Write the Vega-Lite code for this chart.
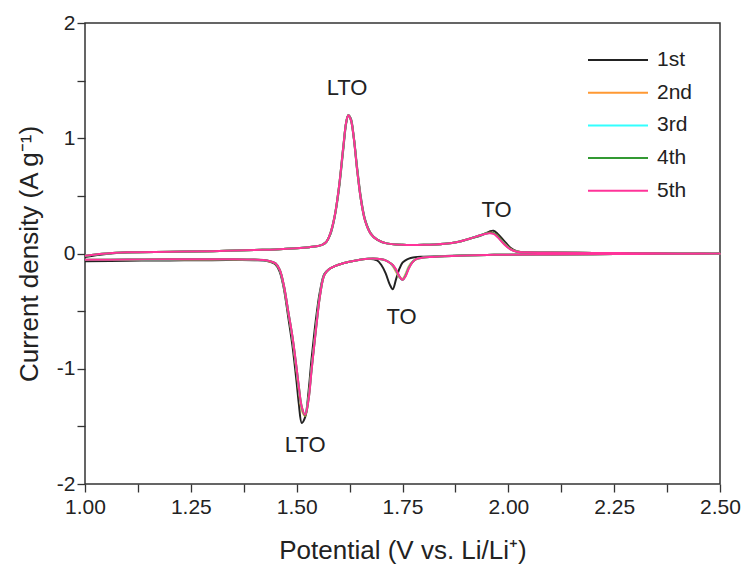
{
"$schema":"https://vega.github.io/schema/vega-lite/v6.json",
"width":635,"height":461,"autosize":"none",
"padding":{"left":85,"top":23,"right":28,"bottom":85},
"background":"white",
"config":{"view":{"stroke":"#333333","strokeWidth":1.5},"font":"Liberation Sans"},
"layer":[
{"data":{"values":[
{"c":"1st","i":0,"x":1,"y":-0.03},{"c":"1st","i":1,"x":1.05,"y":-0.005},{"c":"1st","i":2,"x":1.1,"y":0.008},{"c":"1st","i":3,"x":1.2,"y":0.014},{"c":"1st","i":4,"x":1.3,"y":0.02},{"c":"1st","i":5,"x":1.4,"y":0.03},{"c":"1st","i":6,"x":1.45,"y":0.035},{"c":"1st","i":7,"x":1.5,"y":0.045},{"c":"1st","i":8,"x":1.53,"y":0.055},{"c":"1st","i":9,"x":1.55,"y":0.065},{"c":"1st","i":10,"x":1.56,"y":0.075},{"c":"1st","i":11,"x":1.57,"y":0.1},{"c":"1st","i":12,"x":1.58,"y":0.17},{"c":"1st","i":13,"x":1.59,"y":0.32},{"c":"1st","i":14,"x":1.6,"y":0.56},{"c":"1st","i":15,"x":1.61,"y":0.9},{"c":"1st","i":16,"x":1.617,"y":1.13},{"c":"1st","i":17,"x":1.622,"y":1.2},{"c":"1st","i":18,"x":1.628,"y":1.17},{"c":"1st","i":19,"x":1.635,"y":1.01},{"c":"1st","i":20,"x":1.643,"y":0.74},{"c":"1st","i":21,"x":1.652,"y":0.48},{"c":"1st","i":22,"x":1.662,"y":0.29},{"c":"1st","i":23,"x":1.675,"y":0.175},{"c":"1st","i":24,"x":1.69,"y":0.12},{"c":"1st","i":25,"x":1.71,"y":0.09},{"c":"1st","i":26,"x":1.75,"y":0.075},{"c":"1st","i":27,"x":1.8,"y":0.075},{"c":"1st","i":28,"x":1.85,"y":0.085},{"c":"1st","i":29,"x":1.88,"y":0.1},{"c":"1st","i":30,"x":1.91,"y":0.13},{"c":"1st","i":31,"x":1.935,"y":0.155},{"c":"1st","i":32,"x":1.955,"y":0.19},{"c":"1st","i":33,"x":1.965,"y":0.198},{"c":"1st","i":34,"x":1.975,"y":0.17},{"c":"1st","i":35,"x":1.99,"y":0.11},{"c":"1st","i":36,"x":2.005,"y":0.05},{"c":"1st","i":37,"x":2.02,"y":0.02},{"c":"1st","i":38,"x":2.05,"y":0.01},{"c":"1st","i":39,"x":2.1,"y":0.008},{"c":"1st","i":40,"x":2.2,"y":0.005},{"c":"1st","i":41,"x":2.3,"y":0.003},{"c":"1st","i":42,"x":2.4,"y":0.001},{"c":"1st","i":43,"x":2.5,"y":0},
{"c":"1st","i":44,"x":2.4,"y":-0.002},{"c":"1st","i":45,"x":2.3,"y":-0.004},{"c":"1st","i":46,"x":2.2,"y":-0.006},{"c":"1st","i":47,"x":2.1,"y":-0.008},{"c":"1st","i":48,"x":2,"y":-0.01},{"c":"1st","i":49,"x":1.95,"y":-0.012},{"c":"1st","i":50,"x":1.9,"y":-0.016},{"c":"1st","i":51,"x":1.85,"y":-0.021},{"c":"1st","i":52,"x":1.82,"y":-0.025},{"c":"1st","i":53,"x":1.8,"y":-0.028},{"c":"1st","i":54,"x":1.785,"y":-0.03},{"c":"1st","i":55,"x":1.775,"y":-0.035},{"c":"1st","i":56,"x":1.765,"y":-0.045},{"c":"1st","i":57,"x":1.757,"y":-0.06},{"c":"1st","i":58,"x":1.75,"y":-0.08},{"c":"1st","i":59,"x":1.743,"y":-0.13},{"c":"1st","i":60,"x":1.735,"y":-0.22},{"c":"1st","i":61,"x":1.727,"y":-0.31},{"c":"1st","i":62,"x":1.72,"y":-0.27},{"c":"1st","i":63,"x":1.71,"y":-0.17},{"c":"1st","i":64,"x":1.7,"y":-0.1},{"c":"1st","i":65,"x":1.69,"y":-0.06},{"c":"1st","i":66,"x":1.67,"y":-0.045},{"c":"1st","i":67,"x":1.64,"y":-0.06},{"c":"1st","i":68,"x":1.61,"y":-0.085},{"c":"1st","i":69,"x":1.59,"y":-0.11},{"c":"1st","i":70,"x":1.575,"y":-0.14},{"c":"1st","i":71,"x":1.565,"y":-0.18},{"c":"1st","i":72,"x":1.555,"y":-0.33},{"c":"1st","i":73,"x":1.548,"y":-0.5},{"c":"1st","i":74,"x":1.542,"y":-0.68},{"c":"1st","i":75,"x":1.535,"y":-0.92},{"c":"1st","i":76,"x":1.528,"y":-1.2},{"c":"1st","i":77,"x":1.52,"y":-1.42},{"c":"1st","i":78,"x":1.512,"y":-1.47},{"c":"1st","i":79,"x":1.505,"y":-1.3},{"c":"1st","i":80,"x":1.5,"y":-1.12},{"c":"1st","i":81,"x":1.49,"y":-0.8},{"c":"1st","i":82,"x":1.48,"y":-0.55},{"c":"1st","i":83,"x":1.47,"y":-0.31},{"c":"1st","i":84,"x":1.46,"y":-0.16},{"c":"1st","i":85,"x":1.45,"y":-0.095},{"c":"1st","i":86,"x":1.43,"y":-0.065},{"c":"1st","i":87,"x":1.4,"y":-0.058},{"c":"1st","i":88,"x":1.35,"y":-0.057},{"c":"1st","i":89,"x":1.3,"y":-0.058},{"c":"1st","i":90,"x":1.2,"y":-0.06},{"c":"1st","i":91,"x":1.1,"y":-0.063},{"c":"1st","i":92,"x":1,"y":-0.068},

{"c":"2nd","i":0,"x":1,"y":-0.02},{"c":"2nd","i":1,"x":1.05,"y":0},{"c":"2nd","i":2,"x":1.1,"y":0.01},{"c":"2nd","i":3,"x":1.2,"y":0.015},{"c":"2nd","i":4,"x":1.3,"y":0.02},{"c":"2nd","i":5,"x":1.4,"y":0.03},{"c":"2nd","i":6,"x":1.45,"y":0.035},{"c":"2nd","i":7,"x":1.5,"y":0.045},{"c":"2nd","i":8,"x":1.53,"y":0.055},{"c":"2nd","i":9,"x":1.55,"y":0.065},{"c":"2nd","i":10,"x":1.56,"y":0.075},{"c":"2nd","i":11,"x":1.57,"y":0.1},{"c":"2nd","i":12,"x":1.58,"y":0.18},{"c":"2nd","i":13,"x":1.59,"y":0.33},{"c":"2nd","i":14,"x":1.6,"y":0.58},{"c":"2nd","i":15,"x":1.61,"y":0.92},{"c":"2nd","i":16,"x":1.617,"y":1.14},{"c":"2nd","i":17,"x":1.622,"y":1.2},{"c":"2nd","i":18,"x":1.628,"y":1.16},{"c":"2nd","i":19,"x":1.635,"y":1},{"c":"2nd","i":20,"x":1.643,"y":0.72},{"c":"2nd","i":21,"x":1.652,"y":0.46},{"c":"2nd","i":22,"x":1.662,"y":0.28},{"c":"2nd","i":23,"x":1.675,"y":0.17},{"c":"2nd","i":24,"x":1.69,"y":0.12},{"c":"2nd","i":25,"x":1.71,"y":0.09},{"c":"2nd","i":26,"x":1.75,"y":0.075},{"c":"2nd","i":27,"x":1.8,"y":0.075},{"c":"2nd","i":28,"x":1.85,"y":0.085},{"c":"2nd","i":29,"x":1.88,"y":0.1},{"c":"2nd","i":30,"x":1.91,"y":0.13},{"c":"2nd","i":31,"x":1.935,"y":0.16},{"c":"2nd","i":32,"x":1.955,"y":0.18},{"c":"2nd","i":33,"x":1.965,"y":0.178},{"c":"2nd","i":34,"x":1.975,"y":0.15},{"c":"2nd","i":35,"x":1.99,"y":0.09},{"c":"2nd","i":36,"x":2.005,"y":0.04},{"c":"2nd","i":37,"x":2.02,"y":0.017},{"c":"2nd","i":38,"x":2.05,"y":0.01},{"c":"2nd","i":39,"x":2.1,"y":0.008},{"c":"2nd","i":40,"x":2.2,"y":0.005},{"c":"2nd","i":41,"x":2.3,"y":0.003},{"c":"2nd","i":42,"x":2.4,"y":0.001},{"c":"2nd","i":43,"x":2.5,"y":0},
{"c":"2nd","i":44,"x":2.4,"y":-0.002},{"c":"2nd","i":45,"x":2.3,"y":-0.004},{"c":"2nd","i":46,"x":2.2,"y":-0.006},{"c":"2nd","i":47,"x":2.1,"y":-0.008},{"c":"2nd","i":48,"x":2,"y":-0.01},{"c":"2nd","i":49,"x":1.95,"y":-0.013},{"c":"2nd","i":50,"x":1.9,"y":-0.018},{"c":"2nd","i":51,"x":1.85,"y":-0.024},{"c":"2nd","i":52,"x":1.82,"y":-0.03},{"c":"2nd","i":53,"x":1.8,"y":-0.035},{"c":"2nd","i":54,"x":1.785,"y":-0.045},{"c":"2nd","i":55,"x":1.775,"y":-0.065},{"c":"2nd","i":56,"x":1.765,"y":-0.11},{"c":"2nd","i":57,"x":1.757,"y":-0.18},{"c":"2nd","i":58,"x":1.75,"y":-0.22},{"c":"2nd","i":59,"x":1.743,"y":-0.21},{"c":"2nd","i":60,"x":1.735,"y":-0.16},{"c":"2nd","i":61,"x":1.727,"y":-0.11},{"c":"2nd","i":62,"x":1.72,"y":-0.08},{"c":"2nd","i":63,"x":1.71,"y":-0.06},{"c":"2nd","i":64,"x":1.7,"y":-0.05},{"c":"2nd","i":65,"x":1.69,"y":-0.045},{"c":"2nd","i":66,"x":1.67,"y":-0.045},{"c":"2nd","i":67,"x":1.64,"y":-0.06},{"c":"2nd","i":68,"x":1.61,"y":-0.085},{"c":"2nd","i":69,"x":1.59,"y":-0.11},{"c":"2nd","i":70,"x":1.575,"y":-0.14},{"c":"2nd","i":71,"x":1.565,"y":-0.19},{"c":"2nd","i":72,"x":1.555,"y":-0.36},{"c":"2nd","i":73,"x":1.548,"y":-0.56},{"c":"2nd","i":74,"x":1.542,"y":-0.76},{"c":"2nd","i":75,"x":1.535,"y":-1},{"c":"2nd","i":76,"x":1.528,"y":-1.25},{"c":"2nd","i":77,"x":1.52,"y":-1.41},{"c":"2nd","i":78,"x":1.512,"y":-1.36},{"c":"2nd","i":79,"x":1.505,"y":-1.18},{"c":"2nd","i":80,"x":1.5,"y":-1.03},{"c":"2nd","i":81,"x":1.49,"y":-0.74},{"c":"2nd","i":82,"x":1.48,"y":-0.51},{"c":"2nd","i":83,"x":1.47,"y":-0.29},{"c":"2nd","i":84,"x":1.46,"y":-0.145},{"c":"2nd","i":85,"x":1.45,"y":-0.088},{"c":"2nd","i":86,"x":1.43,"y":-0.062},{"c":"2nd","i":87,"x":1.4,"y":-0.054},{"c":"2nd","i":88,"x":1.35,"y":-0.051},{"c":"2nd","i":89,"x":1.3,"y":-0.051},{"c":"2nd","i":90,"x":1.2,"y":-0.052},{"c":"2nd","i":91,"x":1.1,"y":-0.054},{"c":"2nd","i":92,"x":1,"y":-0.057},

{"c":"3rd","i":0,"x":1,"y":-0.02},{"c":"3rd","i":1,"x":1.05,"y":0},{"c":"3rd","i":2,"x":1.1,"y":0.01},{"c":"3rd","i":3,"x":1.2,"y":0.015},{"c":"3rd","i":4,"x":1.3,"y":0.02},{"c":"3rd","i":5,"x":1.4,"y":0.03},{"c":"3rd","i":6,"x":1.45,"y":0.035},{"c":"3rd","i":7,"x":1.5,"y":0.045},{"c":"3rd","i":8,"x":1.53,"y":0.055},{"c":"3rd","i":9,"x":1.55,"y":0.065},{"c":"3rd","i":10,"x":1.56,"y":0.075},{"c":"3rd","i":11,"x":1.57,"y":0.1},{"c":"3rd","i":12,"x":1.58,"y":0.18},{"c":"3rd","i":13,"x":1.59,"y":0.33},{"c":"3rd","i":14,"x":1.6,"y":0.58},{"c":"3rd","i":15,"x":1.61,"y":0.92},{"c":"3rd","i":16,"x":1.617,"y":1.14},{"c":"3rd","i":17,"x":1.622,"y":1.2},{"c":"3rd","i":18,"x":1.628,"y":1.16},{"c":"3rd","i":19,"x":1.635,"y":1},{"c":"3rd","i":20,"x":1.643,"y":0.72},{"c":"3rd","i":21,"x":1.652,"y":0.46},{"c":"3rd","i":22,"x":1.662,"y":0.28},{"c":"3rd","i":23,"x":1.675,"y":0.17},{"c":"3rd","i":24,"x":1.69,"y":0.12},{"c":"3rd","i":25,"x":1.71,"y":0.09},{"c":"3rd","i":26,"x":1.75,"y":0.075},{"c":"3rd","i":27,"x":1.8,"y":0.075},{"c":"3rd","i":28,"x":1.85,"y":0.085},{"c":"3rd","i":29,"x":1.88,"y":0.1},{"c":"3rd","i":30,"x":1.91,"y":0.13},{"c":"3rd","i":31,"x":1.935,"y":0.16},{"c":"3rd","i":32,"x":1.955,"y":0.178},{"c":"3rd","i":33,"x":1.965,"y":0.174},{"c":"3rd","i":34,"x":1.975,"y":0.145},{"c":"3rd","i":35,"x":1.99,"y":0.085},{"c":"3rd","i":36,"x":2.005,"y":0.037},{"c":"3rd","i":37,"x":2.02,"y":0.016},{"c":"3rd","i":38,"x":2.05,"y":0.01},{"c":"3rd","i":39,"x":2.1,"y":0.008},{"c":"3rd","i":40,"x":2.2,"y":0.005},{"c":"3rd","i":41,"x":2.3,"y":0.003},{"c":"3rd","i":42,"x":2.4,"y":0.001},{"c":"3rd","i":43,"x":2.5,"y":0},
{"c":"3rd","i":44,"x":2.4,"y":-0.002},{"c":"3rd","i":45,"x":2.3,"y":-0.004},{"c":"3rd","i":46,"x":2.2,"y":-0.006},{"c":"3rd","i":47,"x":2.1,"y":-0.008},{"c":"3rd","i":48,"x":2,"y":-0.01},{"c":"3rd","i":49,"x":1.95,"y":-0.013},{"c":"3rd","i":50,"x":1.9,"y":-0.018},{"c":"3rd","i":51,"x":1.85,"y":-0.024},{"c":"3rd","i":52,"x":1.82,"y":-0.03},{"c":"3rd","i":53,"x":1.8,"y":-0.035},{"c":"3rd","i":54,"x":1.785,"y":-0.045},{"c":"3rd","i":55,"x":1.775,"y":-0.068},{"c":"3rd","i":56,"x":1.765,"y":-0.12},{"c":"3rd","i":57,"x":1.757,"y":-0.19},{"c":"3rd","i":58,"x":1.75,"y":-0.23},{"c":"3rd","i":59,"x":1.743,"y":-0.205},{"c":"3rd","i":60,"x":1.735,"y":-0.15},{"c":"3rd","i":61,"x":1.727,"y":-0.105},{"c":"3rd","i":62,"x":1.72,"y":-0.08},{"c":"3rd","i":63,"x":1.71,"y":-0.06},{"c":"3rd","i":64,"x":1.7,"y":-0.05},{"c":"3rd","i":65,"x":1.69,"y":-0.045},{"c":"3rd","i":66,"x":1.67,"y":-0.045},{"c":"3rd","i":67,"x":1.64,"y":-0.06},{"c":"3rd","i":68,"x":1.61,"y":-0.085},{"c":"3rd","i":69,"x":1.59,"y":-0.11},{"c":"3rd","i":70,"x":1.575,"y":-0.14},{"c":"3rd","i":71,"x":1.565,"y":-0.19},{"c":"3rd","i":72,"x":1.555,"y":-0.365},{"c":"3rd","i":73,"x":1.548,"y":-0.57},{"c":"3rd","i":74,"x":1.542,"y":-0.77},{"c":"3rd","i":75,"x":1.535,"y":-1.01},{"c":"3rd","i":76,"x":1.528,"y":-1.26},{"c":"3rd","i":77,"x":1.52,"y":-1.4},{"c":"3rd","i":78,"x":1.512,"y":-1.34},{"c":"3rd","i":79,"x":1.505,"y":-1.16},{"c":"3rd","i":80,"x":1.5,"y":-1.01},{"c":"3rd","i":81,"x":1.49,"y":-0.73},{"c":"3rd","i":82,"x":1.48,"y":-0.5},{"c":"3rd","i":83,"x":1.47,"y":-0.285},{"c":"3rd","i":84,"x":1.46,"y":-0.142},{"c":"3rd","i":85,"x":1.45,"y":-0.086},{"c":"3rd","i":86,"x":1.43,"y":-0.061},{"c":"3rd","i":87,"x":1.4,"y":-0.053},{"c":"3rd","i":88,"x":1.35,"y":-0.05},{"c":"3rd","i":89,"x":1.3,"y":-0.05},{"c":"3rd","i":90,"x":1.2,"y":-0.051},{"c":"3rd","i":91,"x":1.1,"y":-0.053},{"c":"3rd","i":92,"x":1,"y":-0.056},

{"c":"4th","i":0,"x":1,"y":-0.02},{"c":"4th","i":1,"x":1.05,"y":0},{"c":"4th","i":2,"x":1.1,"y":0.01},{"c":"4th","i":3,"x":1.2,"y":0.015},{"c":"4th","i":4,"x":1.3,"y":0.02},{"c":"4th","i":5,"x":1.4,"y":0.03},{"c":"4th","i":6,"x":1.45,"y":0.035},{"c":"4th","i":7,"x":1.5,"y":0.045},{"c":"4th","i":8,"x":1.53,"y":0.055},{"c":"4th","i":9,"x":1.55,"y":0.065},{"c":"4th","i":10,"x":1.56,"y":0.075},{"c":"4th","i":11,"x":1.57,"y":0.1},{"c":"4th","i":12,"x":1.58,"y":0.18},{"c":"4th","i":13,"x":1.59,"y":0.33},{"c":"4th","i":14,"x":1.6,"y":0.58},{"c":"4th","i":15,"x":1.61,"y":0.92},{"c":"4th","i":16,"x":1.617,"y":1.14},{"c":"4th","i":17,"x":1.622,"y":1.2},{"c":"4th","i":18,"x":1.628,"y":1.16},{"c":"4th","i":19,"x":1.635,"y":1},{"c":"4th","i":20,"x":1.643,"y":0.72},{"c":"4th","i":21,"x":1.652,"y":0.46},{"c":"4th","i":22,"x":1.662,"y":0.28},{"c":"4th","i":23,"x":1.675,"y":0.17},{"c":"4th","i":24,"x":1.69,"y":0.12},{"c":"4th","i":25,"x":1.71,"y":0.09},{"c":"4th","i":26,"x":1.75,"y":0.075},{"c":"4th","i":27,"x":1.8,"y":0.075},{"c":"4th","i":28,"x":1.85,"y":0.085},{"c":"4th","i":29,"x":1.88,"y":0.1},{"c":"4th","i":30,"x":1.91,"y":0.13},{"c":"4th","i":31,"x":1.935,"y":0.16},{"c":"4th","i":32,"x":1.955,"y":0.18},{"c":"4th","i":33,"x":1.965,"y":0.176},{"c":"4th","i":34,"x":1.975,"y":0.147},{"c":"4th","i":35,"x":1.99,"y":0.085},{"c":"4th","i":36,"x":2.005,"y":0.037},{"c":"4th","i":37,"x":2.02,"y":0.016},{"c":"4th","i":38,"x":2.05,"y":0.01},{"c":"4th","i":39,"x":2.1,"y":0.008},{"c":"4th","i":40,"x":2.2,"y":0.005},{"c":"4th","i":41,"x":2.3,"y":0.003},{"c":"4th","i":42,"x":2.4,"y":0.001},{"c":"4th","i":43,"x":2.5,"y":0},
{"c":"4th","i":44,"x":2.4,"y":-0.002},{"c":"4th","i":45,"x":2.3,"y":-0.004},{"c":"4th","i":46,"x":2.2,"y":-0.006},{"c":"4th","i":47,"x":2.1,"y":-0.008},{"c":"4th","i":48,"x":2,"y":-0.01},{"c":"4th","i":49,"x":1.95,"y":-0.013},{"c":"4th","i":50,"x":1.9,"y":-0.018},{"c":"4th","i":51,"x":1.85,"y":-0.024},{"c":"4th","i":52,"x":1.82,"y":-0.03},{"c":"4th","i":53,"x":1.8,"y":-0.035},{"c":"4th","i":54,"x":1.785,"y":-0.045},{"c":"4th","i":55,"x":1.775,"y":-0.07},{"c":"4th","i":56,"x":1.765,"y":-0.125},{"c":"4th","i":57,"x":1.757,"y":-0.195},{"c":"4th","i":58,"x":1.75,"y":-0.23},{"c":"4th","i":59,"x":1.743,"y":-0.2},{"c":"4th","i":60,"x":1.735,"y":-0.145},{"c":"4th","i":61,"x":1.727,"y":-0.1},{"c":"4th","i":62,"x":1.72,"y":-0.08},{"c":"4th","i":63,"x":1.71,"y":-0.06},{"c":"4th","i":64,"x":1.7,"y":-0.05},{"c":"4th","i":65,"x":1.69,"y":-0.045},{"c":"4th","i":66,"x":1.67,"y":-0.045},{"c":"4th","i":67,"x":1.64,"y":-0.06},{"c":"4th","i":68,"x":1.61,"y":-0.085},{"c":"4th","i":69,"x":1.59,"y":-0.11},{"c":"4th","i":70,"x":1.575,"y":-0.14},{"c":"4th","i":71,"x":1.565,"y":-0.19},{"c":"4th","i":72,"x":1.555,"y":-0.37},{"c":"4th","i":73,"x":1.548,"y":-0.58},{"c":"4th","i":74,"x":1.542,"y":-0.78},{"c":"4th","i":75,"x":1.535,"y":-1.02},{"c":"4th","i":76,"x":1.528,"y":-1.27},{"c":"4th","i":77,"x":1.52,"y":-1.41},{"c":"4th","i":78,"x":1.512,"y":-1.33},{"c":"4th","i":79,"x":1.505,"y":-1.15},{"c":"4th","i":80,"x":1.5,"y":-1},{"c":"4th","i":81,"x":1.49,"y":-0.72},{"c":"4th","i":82,"x":1.48,"y":-0.5},{"c":"4th","i":83,"x":1.47,"y":-0.28},{"c":"4th","i":84,"x":1.46,"y":-0.14},{"c":"4th","i":85,"x":1.45,"y":-0.085},{"c":"4th","i":86,"x":1.43,"y":-0.06},{"c":"4th","i":87,"x":1.4,"y":-0.053},{"c":"4th","i":88,"x":1.35,"y":-0.05},{"c":"4th","i":89,"x":1.3,"y":-0.05},{"c":"4th","i":90,"x":1.2,"y":-0.05},{"c":"4th","i":91,"x":1.1,"y":-0.052},{"c":"4th","i":92,"x":1,"y":-0.055},

{"c":"5th","i":0,"x":1,"y":-0.02},{"c":"5th","i":1,"x":1.05,"y":0},{"c":"5th","i":2,"x":1.1,"y":0.01},{"c":"5th","i":3,"x":1.2,"y":0.015},{"c":"5th","i":4,"x":1.3,"y":0.02},{"c":"5th","i":5,"x":1.4,"y":0.03},{"c":"5th","i":6,"x":1.45,"y":0.035},{"c":"5th","i":7,"x":1.5,"y":0.045},{"c":"5th","i":8,"x":1.53,"y":0.055},{"c":"5th","i":9,"x":1.55,"y":0.065},{"c":"5th","i":10,"x":1.56,"y":0.075},{"c":"5th","i":11,"x":1.57,"y":0.1},{"c":"5th","i":12,"x":1.58,"y":0.18},{"c":"5th","i":13,"x":1.59,"y":0.33},{"c":"5th","i":14,"x":1.6,"y":0.58},{"c":"5th","i":15,"x":1.61,"y":0.92},{"c":"5th","i":16,"x":1.617,"y":1.14},{"c":"5th","i":17,"x":1.622,"y":1.2},{"c":"5th","i":18,"x":1.628,"y":1.16},{"c":"5th","i":19,"x":1.635,"y":1},{"c":"5th","i":20,"x":1.643,"y":0.72},{"c":"5th","i":21,"x":1.652,"y":0.46},{"c":"5th","i":22,"x":1.662,"y":0.28},{"c":"5th","i":23,"x":1.675,"y":0.17},{"c":"5th","i":24,"x":1.69,"y":0.12},{"c":"5th","i":25,"x":1.71,"y":0.09},{"c":"5th","i":26,"x":1.75,"y":0.075},{"c":"5th","i":27,"x":1.8,"y":0.075},{"c":"5th","i":28,"x":1.85,"y":0.085},{"c":"5th","i":29,"x":1.88,"y":0.1},{"c":"5th","i":30,"x":1.91,"y":0.13},{"c":"5th","i":31,"x":1.935,"y":0.16},{"c":"5th","i":32,"x":1.955,"y":0.175},{"c":"5th","i":33,"x":1.965,"y":0.17},{"c":"5th","i":34,"x":1.975,"y":0.14},{"c":"5th","i":35,"x":1.99,"y":0.08},{"c":"5th","i":36,"x":2.005,"y":0.035},{"c":"5th","i":37,"x":2.02,"y":0.015},{"c":"5th","i":38,"x":2.05,"y":0.01},{"c":"5th","i":39,"x":2.1,"y":0.008},{"c":"5th","i":40,"x":2.2,"y":0.005},{"c":"5th","i":41,"x":2.3,"y":0.003},{"c":"5th","i":42,"x":2.4,"y":0.001},{"c":"5th","i":43,"x":2.5,"y":0},
{"c":"5th","i":44,"x":2.4,"y":-0.002},{"c":"5th","i":45,"x":2.3,"y":-0.004},{"c":"5th","i":46,"x":2.2,"y":-0.006},{"c":"5th","i":47,"x":2.1,"y":-0.008},{"c":"5th","i":48,"x":2,"y":-0.01},{"c":"5th","i":49,"x":1.95,"y":-0.013},{"c":"5th","i":50,"x":1.9,"y":-0.018},{"c":"5th","i":51,"x":1.85,"y":-0.024},{"c":"5th","i":52,"x":1.82,"y":-0.03},{"c":"5th","i":53,"x":1.8,"y":-0.035},{"c":"5th","i":54,"x":1.785,"y":-0.045},{"c":"5th","i":55,"x":1.775,"y":-0.07},{"c":"5th","i":56,"x":1.765,"y":-0.13},{"c":"5th","i":57,"x":1.757,"y":-0.2},{"c":"5th","i":58,"x":1.75,"y":-0.23},{"c":"5th","i":59,"x":1.743,"y":-0.2},{"c":"5th","i":60,"x":1.735,"y":-0.14},{"c":"5th","i":61,"x":1.727,"y":-0.1},{"c":"5th","i":62,"x":1.72,"y":-0.08},{"c":"5th","i":63,"x":1.71,"y":-0.06},{"c":"5th","i":64,"x":1.7,"y":-0.05},{"c":"5th","i":65,"x":1.69,"y":-0.045},{"c":"5th","i":66,"x":1.67,"y":-0.045},{"c":"5th","i":67,"x":1.64,"y":-0.06},{"c":"5th","i":68,"x":1.61,"y":-0.085},{"c":"5th","i":69,"x":1.59,"y":-0.11},{"c":"5th","i":70,"x":1.575,"y":-0.14},{"c":"5th","i":71,"x":1.565,"y":-0.19},{"c":"5th","i":72,"x":1.555,"y":-0.37},{"c":"5th","i":73,"x":1.548,"y":-0.58},{"c":"5th","i":74,"x":1.542,"y":-0.78},{"c":"5th","i":75,"x":1.535,"y":-1.02},{"c":"5th","i":76,"x":1.528,"y":-1.27},{"c":"5th","i":77,"x":1.52,"y":-1.4},{"c":"5th","i":78,"x":1.512,"y":-1.33},{"c":"5th","i":79,"x":1.505,"y":-1.15},{"c":"5th","i":80,"x":1.5,"y":-1},{"c":"5th","i":81,"x":1.49,"y":-0.72},{"c":"5th","i":82,"x":1.48,"y":-0.5},{"c":"5th","i":83,"x":1.47,"y":-0.28},{"c":"5th","i":84,"x":1.46,"y":-0.14},{"c":"5th","i":85,"x":1.45,"y":-0.085},{"c":"5th","i":86,"x":1.43,"y":-0.06},{"c":"5th","i":87,"x":1.4,"y":-0.053},{"c":"5th","i":88,"x":1.35,"y":-0.05},{"c":"5th","i":89,"x":1.3,"y":-0.05},{"c":"5th","i":90,"x":1.2,"y":-0.05},{"c":"5th","i":91,"x":1.1,"y":-0.052},{"c":"5th","i":92,"x":1,"y":-0.055}
]},
"mark":{"type":"line","strokeWidth":2,"interpolate":"catmull-rom"},
"encoding":{
"x":{"field":"x","type":"quantitative","scale":{"domain":[1,2.5],"nice":false,"zero":false},
 "axis":{"title":"Potential (V vs. Li/Li⁺)","values":[1,1.125,1.25,1.375,1.5,1.625,1.75,1.875,2,2.125,2.25,2.375,2.5],
 "labelExpr":"abs(datum.value*4-round(datum.value*4))<0.001 ? format(datum.value,'.2f') : ''",
 "tickSize":8,"tickColor":"#333333","tickWidth":1.3,"domain":false,"grid":false,"labelFontSize":21,"labelColor":"#222222","labelPadding":4,
 "titleFontSize":26,"titleFontWeight":"normal","titleColor":"#222222","titlePadding":20,"labelFlush":false,
 "encode":{"ticks":{"update":{"y":{"signal":"abs(datum.value*4-round(datum.value*4))<0.001 ? -8 : -4"},"y2":{"value":0}}}}}},
"y":{"field":"y","type":"quantitative","scale":{"domain":[-2,2],"nice":false,"zero":false},
 "axis":{"title":"Current density (A g⁻¹)","values":[-2,-1.5,-1,-0.5,0,0.5,1,1.5,2],
 "labelExpr":"abs(datum.value-round(datum.value))<0.001 ? ''+round(datum.value) : ''",
 "tickSize":8,"tickColor":"#333333","tickWidth":1.3,"domain":false,"grid":false,"labelFontSize":21,"labelColor":"#222222","labelPadding":2,
 "titleFontSize":26,"titleFontWeight":"normal","titleColor":"#222222","titlePadding":14,"labelFlush":false,
 "encode":{"ticks":{"update":{"x":{"signal":"abs(datum.value-round(datum.value))<0.001 ? 8 : 4"},"x2":{"value":0}}}}}},
"color":{"field":"c","type":"nominal","scale":{"domain":["1st","2nd","3rd","4th","5th"],"range":["#222222","#ff9933","#33ffff","#339933","#ff3399"]},
 "legend":{"title":null,"orient":"none","legendX":522,"legendY":26,"symbolType":"M-3,0H3","symbolSize":400,"symbolStrokeWidth":2,"labelFontSize":21,"labelColor":"#222222","labelOffset":28,"rowPadding":11.7}},
"order":{"field":"i","type":"quantitative"}
}},
{"data":{"values":[{"t":"LTO","x":1.619,"y":1.436},{"t":"TO","x":1.972,"y":0.377},{"t":"TO","x":1.748,"y":-0.548},{"t":"LTO","x":1.52,"y":-1.66}]},
"mark":{"type":"text","fontSize":22,"color":"#222222","align":"center","baseline":"middle"},
"encoding":{"x":{"field":"x","type":"quantitative"},"y":{"field":"y","type":"quantitative"},"text":{"field":"t"}}}
]
}
